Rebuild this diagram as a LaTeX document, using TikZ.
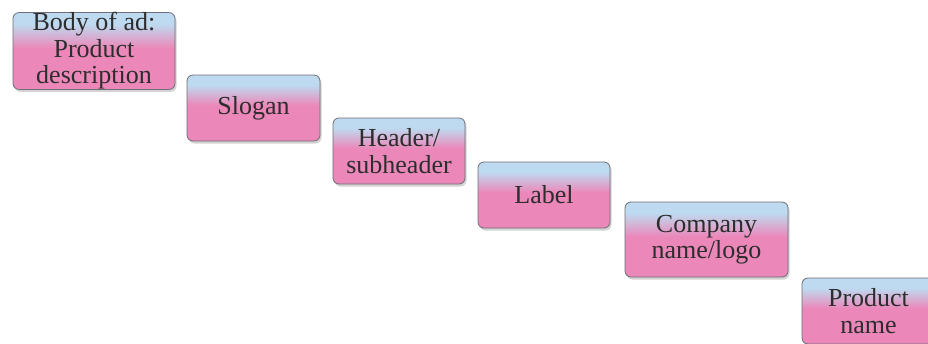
\documentclass[tikz,border=0pt]{standalone}
\usepackage{fontspec}
\setmainfont{Liberation Serif}
\newfontfamily\adfont{Liberation Serif}
\usetikzlibrary{shadows}
\definecolor{boxblue}{RGB}{190,218,240}
\definecolor{boxpink}{RGB}{235,136,185}
\definecolor{boxedge}{RGB}{110,110,120}
\definecolor{txt}{RGB}{45,45,45}
\pgfdeclareverticalshading{bluepink}{100bp}{color(0bp)=(boxpink); color(52bp)=(boxpink); color(67.5bp)=(boxblue); color(100bp)=(boxblue)}
\tikzset{
  adbox/.style={draw=boxedge, line width=0.8pt, rounded corners=6pt, shading=bluepink,
    align=center, inner sep=0pt, text=txt,
    font=\adfont\fontsize{26}{26.5}\selectfont,
    drop shadow={shadow xshift=1.5pt, shadow yshift=-2.5pt, opacity=0.35, fill=gray}}
}
\begin{document}
\begin{tikzpicture}[x=1pt,y=1pt]
\useasboundingbox (0,0) rectangle (928,-343);
\node[adbox, minimum width=162pt, minimum height=74pt] (body) at (94,-51) {Body of ad:\\Product\\description};
\node[adbox, minimum width=133pt, minimum height=66pt] (slogan) at (253.5,-108) {Slogan};
\node[adbox, minimum width=132pt, minimum height=66pt] (header) at (399,-151) {Header/\\subheader};
\node[adbox, minimum width=132pt, minimum height=66pt] (label) at (544,-195) {Label};
\node[adbox, minimum width=163pt, minimum height=75pt] (company) at (706.5,-239.5) {Company\\name/logo};
\node[adbox, minimum width=133pt, minimum height=66pt] (product) at (868.5,-311) {Product\\name};
\end{tikzpicture}
\end{document}
